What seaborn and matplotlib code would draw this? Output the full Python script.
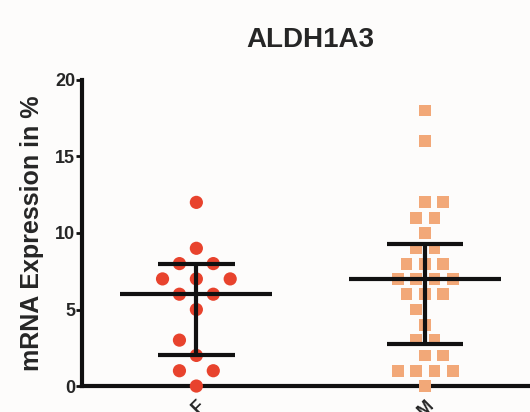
import numpy as np
import pandas as pd
import seaborn as sns
from matplotlib import pyplot as plt

groups = ["F", "M"]
female = [12, 9, 8, 8, 7, 7, 7, 6, 6, 5, 3, 2, 1, 1, 0]
male = [18, 16, 12, 12, 11, 11, 10, 9, 9, 8, 8, 8, 7, 7, 7, 7,
        6, 6, 6, 5, 4, 3, 3, 2, 2, 1, 1, 1, 1, 0]
colors = {"F": "#e8432d", "M": "#f2a878"}
markers = {"F": "o", "M": "s"}
sizes = {"F": 9.5, "M": 8.5}
# invisible edge, only widens the swarm spacing like Prism does
gaps = {"F": 6.5, "M": 4}

df = pd.DataFrame({
    "Sex": ["F"] * len(female) + ["M"] * len(male),
    "Value": female + male,
})

sns.set_style("ticks")
plt.rcParams["font.family"] = ["Liberation Sans", "DejaVu Sans"]
plt.rcParams["font.weight"] = "bold"

fig = plt.figure(figsize=(5.3, 4.12), dpi=100)
fig.patch.set_facecolor("#fdfcfb")
ax = fig.add_axes([0.155, 0.063, 0.862, 0.743])
ax.set_facecolor("#fdfcfb")

for g in groups:
    sub = df[df["Sex"] == g]
    sns.swarmplot(data=sub, x="Sex", y="Value", order=groups, ax=ax,
                  color=colors[g], marker=markers[g], size=sizes[g],
                  linewidth=gaps[g], edgecolor="none")

for coll in list(ax.collections):
    if len(coll.get_offsets()) == 0:
        coll.remove()
        continue
    coll.set_clip_on(False)
    coll.set_zorder(3)
    coll.set_edgecolor("none")

# median with interquartile range
for i, g in enumerate(groups):
    vals = df.loc[df["Sex"] == g, "Value"].values
    q1, med, q3 = np.percentile(vals, [25, 50, 75], method="weibull")
    ax.hlines(med, i - 0.333, i + 0.333, color="#111111", lw=3, zorder=4)
    ax.hlines([q1, q3], i - 0.167, i + 0.167, color="#111111", lw=3, zorder=4)
    ax.vlines(i, q1, q3, color="#111111", lw=3, zorder=4)

ax.set_xlim(-0.5, 1.5)
ax.set_ylim(0, 20)
ax.set_yticks([0, 5, 10, 15, 20])
ax.set_xlabel("")
ax.set_ylabel("mRNA Expression in %", fontsize=18, fontweight="bold", labelpad=8)
ax.set_title("ALDH1A3", fontsize=20, fontweight="bold", pad=24)

sns.despine(ax=ax)
for side in ["left", "bottom"]:
    ax.spines[side].set_linewidth(3)
    ax.spines[side].set_color("#111111")
ax.tick_params(axis="y", length=4, width=2, labelsize=13, pad=1, color="#111111")
ax.tick_params(axis="x", length=0, labelsize=13, pad=8)
for lab in ax.get_xticklabels():
    lab.set_rotation(45)
    lab.set_ha("right")
    lab.set_rotation_mode("anchor")
    lab.set_fontweight("bold")
for lab in ax.get_yticklabels():
    lab.set_fontweight("bold")

fig.savefig("out.png", dpi=100, facecolor=fig.get_facecolor())
